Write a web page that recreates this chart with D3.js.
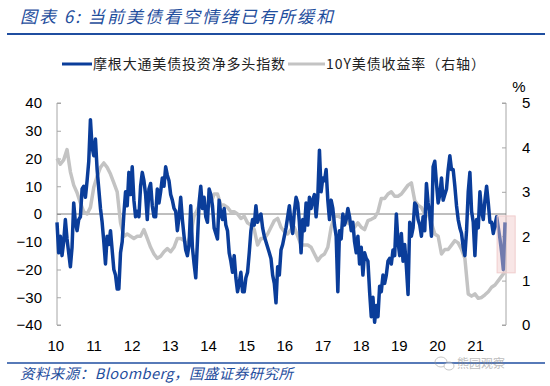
<!DOCTYPE html>
<html>
<head>
<meta charset="utf-8">
<script src="https://cdn.jsdelivr.net/npm/d3@7"></script>
<style>
  body { margin: 0; background: #fff; }
  svg { display: block; }
</style>
</head>
<body>
<svg id="chart" width="550" height="386"></svg>
<script>
// Series start in Jan 2010. Blue index is sampled twice a month, the yield once a month.
var START_YEAR = 2010;

// JPMorgan treasury client net long index (left axis), every half month
var netLong = [
  -3, -14, -8, -15, -10, -2, -9, -14, -19, -12,
  4, -3, -6, -2, -1, 9, 10, 6, 12, 19,
  34, 24, 21, 27, 16, 9, 2, -3, -10, -18,
  -8, -11, -6, -13, -20, -22, -27, -27, -14, -10,
  0, 8, 3, 15, 7, 17, 5, -1, 1, -1,
  10, 15, 12, 7, -2, 9, 11, 3, -1, -1,
  9, 4, 8, 13, 10, 17, 14, 12, 7,
  5, 2, 1, -6, -1, 6, -2, -8, -13, -15,
  -11, 3, -12, -18, -23, -10, 4, 10, 2, 6,
  -1, -3, 9, 7, 3, -5, -7, -9, 5, 0,
  -2, 2, -4, -6, -14, -17, -21, -15, -23, -28,
  -25, -21, -28, -28, -23, -21, -14, -6, -2, -4,
  3, -3, -1, 0, -5, -8, -10, -12, -14, -16,
  -22, -25, -32, -19, -22, -13,
  -11, -8, -5, -1, 3, -3, -7, 1, 6, 4,
  -3, -14, -2, -6, 4, -4, 6, 2, 5, 7,
  -1, 6, 23, 8, 13, 12, 16, 5, -2, 5,
  2, -4, -8, -28, -6, -9, 0, -4, -2, 2,
  -1, -6, -3, -10, -14, -8, -18, -12, -22, -14,
  -16, -17, -28, -37, -30, -39, -33, -37, -26, -28,
  -22, -25, -22, -17, -16, -18,
  -13, -15, 0, -10, -15, -7, -17, -11, -19, -29,
  -3, -8, -5, 4, 3, -2, -4, -8, -1, -6,
  11, 4, 0, -8, 17, 19, 11, 4, 7, 13,
  5, 7, 9, 16, 21, 16, 16, 10, 3, -2,
  -5, -7, -12, -15, -6, 8, 15, 1, -3, -15,
  -2, -5, 8, 1, -2, 5, 10, 4, -3, -3,
  -7, -4, -1, -5, -9, -14, -20, -3
];

// 10Y treasury yield in % (right axis), monthly
var yield10y = [
  3.75, 3.62, 3.72, 3.95, 3.45, 3.15, 2.98, 2.75, 2.55, 2.5, 2.65, 3.1,
  3.35, 3.55, 3.65, 3.55, 3.4, 3.2, 3.0, 2.3, 2.0, 2.05, 2.0, 1.95,
  2.0, 2.0, 2.15, 1.95, 1.75, 1.6, 1.5, 1.55, 1.65, 1.72, 1.65, 1.75,
  1.95, 1.95, 1.9, 1.8, 2.05, 2.45, 2.6, 2.8, 2.7, 2.6, 2.75, 2.95,
  2.95, 2.7, 2.7, 2.65, 2.55, 2.55, 2.5, 2.4, 2.45, 2.3, 2.25, 2.15,
  1.8, 1.95, 1.95, 2.05, 2.2, 2.35, 2.4, 2.2, 2.1, 2.05, 2.15, 2.2,
  2.0, 1.8, 1.8, 1.8, 1.75, 1.6, 1.45, 1.55, 1.6, 1.75, 2.2, 2.45,
  2.45, 2.42, 2.45, 2.3, 2.25, 2.2, 2.3, 2.2, 2.15, 2.35, 2.38, 2.42,
  2.55, 2.85, 2.85, 2.95, 3.0, 2.9, 2.9, 2.95, 3.05, 3.15, 3.2, 2.8,
  2.7, 2.65, 2.5, 2.5, 2.3, 2.05, 2.0, 1.6, 1.7, 1.7, 1.8, 1.9,
  1.85, 1.7, 1.5, 0.7, 0.65, 0.7, 0.6, 0.62, 0.68, 0.75, 0.85, 0.9,
  1.0, 1.1, 1.2
];

var leftTicks  = [40, 30, 20, 10, 0, -10, -20, -30, -40];
var rightTicks = [0, 1, 2, 3, 4, 5];
var xLabels    = ["10", "11", "12", "13", "14", "15", "16", "17", "18", "19", "20", "21"];
// labels sit every 0.95 year on the category axis, not on Jan 1
var xLabelStart = 2009.97;
var xLabelStep  = 0.9515;

// highlighted window at the end: [from year, to year], [top, bottom] on left axis
var highlightYears = [2020.97, 2021.42];
var highlightVals  = [-0.7, -21.2];

var legendNames = ["摩根大通美债投资净多头指数", "10Y美债收益率（右轴）"];

var BLUE  = "#0a3d9a";
var GREY  = "#c3c3c3";
var TITLE_BLUE = "#1f4e9d";

var svg = d3.select("#chart");

var plot = { left: 57, right: 506, top: 103, bottom: 325 };
var endYear = START_YEAR + (yield10y.length - 1) / 12;

var x  = d3.scaleLinear().domain([START_YEAR, endYear]).range([plot.left, plot.right - 1]);
var yL = d3.scaleLinear().domain([-40, 40]).range([plot.bottom, plot.top]);
var yR = d3.scaleLinear().domain([0, 5]).range([plot.bottom, plot.top]);

// Title and rules
svg.append("text")
   .attr("x", 20)
   .attr("y", 23)
   .attr("fill", TITLE_BLUE)
   .attr("font-family", "'Noto Sans CJK SC', sans-serif")
   .attr("font-style", "italic")
   .attr("font-size", 17)
   .attr("textLength", 313)
   .attr("lengthAdjust", "spacing")
   .text("图表 6:  当前美债看空情绪已有所缓和");

svg.append("line")
   .attr("x1", 7).attr("x2", 545)
   .attr("y1", 34).attr("y2", 34)
   .attr("stroke", "#1f4ea0")
   .attr("stroke-width", 2);

svg.append("line")
   .attr("x1", 7).attr("x2", 545)
   .attr("y1", 363).attr("y2", 363)
   .attr("stroke", "#1f4ea0")
   .attr("stroke-width", 1.6);

svg.append("text")
   .attr("x", 20)
   .attr("y", 379)
   .attr("fill", TITLE_BLUE)
   .attr("font-family", "'Noto Sans CJK SC', sans-serif")
   .attr("font-style", "italic")
   .attr("font-size", 14.5)
   .attr("textLength", 273)
   .attr("lengthAdjust", "spacing")
   .text("资料来源：Bloomberg，国盛证券研究所");

// watermark
var wm = svg.append("g").attr("opacity", 0.55);
wm.append("ellipse").attr("cx", 441).attr("cy", 362).attr("rx", 6).attr("ry", 5)
  .attr("fill", "none").attr("stroke", "#999").attr("stroke-width", 1);
wm.append("ellipse").attr("cx", 449).attr("cy", 366).attr("rx", 5).attr("ry", 4)
  .attr("fill", "#fff").attr("stroke", "#999").attr("stroke-width", 1);
wm.append("text")
  .attr("x", 457).attr("y", 368)
  .attr("fill", "#888")
  .attr("font-family", "'Noto Sans CJK SC', sans-serif")
  .attr("font-size", 12)
  .text("熊园观察");

// Legend
var legend = svg.append("g")
                .attr("font-family", "'Noto Sans CJK SC', sans-serif")
                .attr("font-size", 14)
                .attr("fill", "#222");

legend.append("line")
      .attr("x1", 62).attr("x2", 92).attr("y1", 64).attr("y2", 64)
      .attr("stroke", BLUE).attr("stroke-width", 3);
legend.append("text")
      .attr("x", 93).attr("y", 69)
      .attr("textLength", 192).attr("lengthAdjust", "spacing")
      .text(legendNames[0]);
legend.append("line")
      .attr("x1", 288).attr("x2", 325).attr("y1", 64).attr("y2", 64)
      .attr("stroke", GREY).attr("stroke-width", 3);
legend.append("text")
      .attr("x", 326).attr("y", 69)
      .attr("textLength", 159).attr("lengthAdjust", "spacing")
      .text(legendNames[1]);

// Axes
var tickFont = "'Liberation Sans', Arial, sans-serif";

var leftAxis = d3.axisLeft(yL)
                 .tickValues(leftTicks)
                 .tickSize(-4)
                 .tickPadding(15);

var gl = svg.append("g")
            .attr("transform", "translate(" + plot.left + ",0)")
            .call(leftAxis);
gl.select(".domain").attr("stroke", "#a6a6a6").attr("d", "M4," + plot.top + "H0V" + plot.bottom + "H4");
gl.selectAll(".tick line").attr("stroke", "#a6a6a6");
gl.selectAll(".tick text")
  .attr("font-family", tickFont)
  .attr("font-size", 15)
  .attr("fill", "#000");

var rightAxis = d3.axisRight(yR)
                  .tickValues(rightTicks)
                  .tickFormat(d3.format("d"))
                  .tickSize(-4)
                  .tickPadding(16);

var gr = svg.append("g")
            .attr("transform", "translate(" + plot.right + ",0)")
            .call(rightAxis);
gr.select(".domain").attr("stroke", "#a6a6a6").attr("d", "M-4," + plot.top + "H0V" + plot.bottom + "H-4");
gr.selectAll(".tick line").attr("stroke", "#a6a6a6");
gr.selectAll(".tick text")
  .attr("font-family", tickFont)
  .attr("font-size", 15)
  .attr("fill", "#000");

svg.append("text")
   .attr("x", 519).attr("y", 92)
   .attr("text-anchor", "middle")
   .attr("font-family", tickFont)
   .attr("font-size", 15)
   .text("%");

// x labels along the bottom
svg.append("g")
   .selectAll("text")
   .data(xLabels)
   .enter().append("text")
   .attr("x", function (d, i) {
     return x(xLabelStart + i * xLabelStep);
   })
   .attr("y", 351)
   .attr("text-anchor", "middle")
   .attr("font-family", tickFont)
   .attr("font-size", 15)
   .text(function (d) { return d; });

// zero line (category axis crosses at 0)
svg.append("line")
   .attr("x1", plot.left).attr("x2", plot.right)
   .attr("y1", yL(0)).attr("y2", yL(0))
   .attr("stroke", "#7f7f7f")
   .attr("stroke-width", 1);

// Lines
var yieldLine = d3.line()
                  .x(function (d, i) { return x(START_YEAR + i / 12); })
                  .y(function (d) { return yR(d); });

var netLine = d3.line()
                .x(function (d, i) { return x(START_YEAR + i / 24); })
                .y(function (d) { return yL(d); });

svg.append("path")
   .datum(yield10y)
   .attr("d", yieldLine)
   .attr("fill", "none")
   .attr("stroke", GREY)
   .attr("stroke-width", 3.5)
   .attr("stroke-linejoin", "round");

svg.append("path")
   .datum(netLong)
   .attr("d", netLine)
   .attr("fill", "none")
   .attr("stroke", BLUE)
   .attr("stroke-width", 3.5)
   .attr("stroke-linejoin", "round");

// pink highlight box over the latest weeks
svg.append("rect")
   .attr("x", x(highlightYears[0]))
   .attr("y", yL(highlightVals[0]))
   .attr("width", x(highlightYears[1]) - x(highlightYears[0]))
   .attr("height", yL(highlightVals[1]) - yL(highlightVals[0]))
   .attr("fill", "rgb(240,200,200)")
   .attr("fill-opacity", 0.45)
   .attr("stroke", "rgb(240,205,205)")
   .attr("stroke-width", 1);
</script>
</body>
</html>
